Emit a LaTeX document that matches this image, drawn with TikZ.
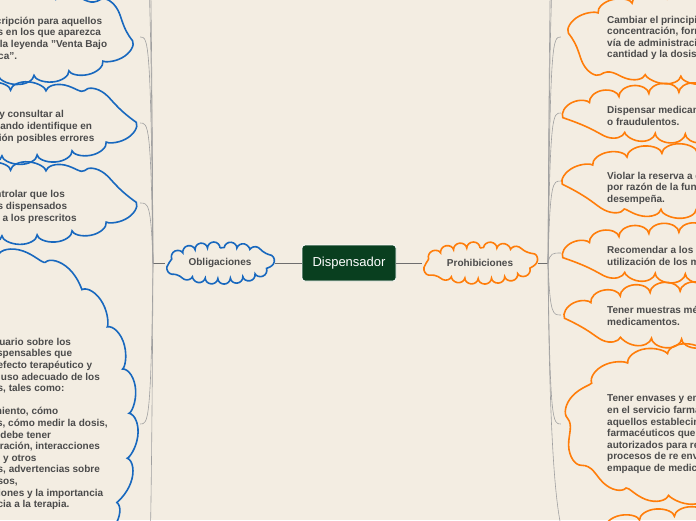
\documentclass[tikz,border=0pt]{standalone}
\usepackage{fontspec}
\setmainfont{Liberation Sans}
\usetikzlibrary{shapes.geometric,decorations.pathmorphing,calc}

\definecolor{fondo}{RGB}{243,237,226}
\definecolor{verdeosc}{RGB}{9,63,31}
\definecolor{azulnube}{RGB}{24,104,190}
\definecolor{naranjanube}{RGB}{255,125,10}
\definecolor{gristexto}{RGB}{75,75,75}
\definecolor{grisrama}{RGB}{160,160,160}
\definecolor{grislinea}{RGB}{110,110,110}

\tikzset{
  hueco/.style={ellipse, inner sep=0pt},
  nubeazul/.style={draw=azulnube, line width=1.6pt, decorate, decoration={bumps, segment length=#1, amplitude=-10pt}},
  nubeazul/.default=70pt,
  nubenaranja/.style={draw=naranjanube, line width=1.6pt, decorate, decoration={bumps, segment length=#1, amplitude=-10pt}},
  nubenaranja/.default=70pt,
  texto/.style={text=gristexto, font=\fontsize{10}{11.6}\selectfont\bfseries, align=left, inner sep=0pt, anchor=west},
  rama/.style={draw=grisrama, line width=0.6pt},
  tallo/.style={draw=grislinea, line width=0.9pt},
}

\begin{document}
\begin{tikzpicture}[x=1pt,y=-1pt]
	\useasboundingbox (0,0) rectangle (696,520);
	\fill[fondo] (0,0) rectangle (696,520);
	\clip (0,0) rectangle (696,520);
	
	% centro
	\node[fill=verdeosc, draw=white, line width=0.8pt, rounded corners=3pt, minimum width=94pt, minimum height=36pt, text=white, font=\fontsize{13}{15}\selectfont] (disp) at (349,263) {Dispensador};
	\node[hueco, minimum width=110pt, minimum height=40pt, text=gristexto, font=\fontsize{10}{12}\selectfont\bfseries] (obl) at (220,263) {Obligaciones};
	\draw[nubeazul=25pt, decoration={amplitude=-6pt}] ($(obl.center)+(0,-15)$) arc[start angle=270, end angle=-90, x radius=46, y radius=15];
	\node[hueco, minimum width=115pt, minimum height=40pt, text=gristexto, font=\fontsize{10}{12}\selectfont\bfseries] (proh) at (480,263) {Prohibiciones};
	\draw[nubenaranja=26.5pt, decoration={amplitude=-6pt}] ($(proh.center)+(0,-15)$) arc[start angle=270, end angle=-90, x radius=49, y radius=15];
	
	% obligaciones
	\node[hueco, minimum width=254pt, minimum height=84pt] (obl1) at (13,37) {};
	\draw[nubeazul] ($(obl1.center)+(-106,0)$) arc[start angle=180, end angle=-180, x radius=106, y radius=37];
	\node[texto] (obl1txt) at (-67,38) {Exigir la prescripción para aquellos\\medicamentos en los que aparezca\\en la etiqueta la leyenda "Venta Bajo\\Fórmula Médica".};
	\node[hueco, minimum width=254pt, minimum height=70pt] (obl2) at (13,123) {};
	\draw[nubeazul] ($(obl2.center)+(-106,0)$) arc[start angle=180, end angle=-180, x radius=106, y radius=31];
	\node[texto] (obl2txt) at (-67,127) {No dispensar y consultar al\\prescriptor cuando identifique en\\una prescripción posibles errores};
	\node[hueco, minimum width=254pt, minimum height=70pt] (obl3) at (13,203) {};
	\draw[nubeazul] ($(obl3.center)+(-106,0)$) arc[start angle=180, end angle=-180, x radius=106, y radius=31];
	\node[texto] (obl3txt) at (-67,207) {Verificar y controlar que los\\medicamentos dispensados\\correspondan a los prescritos};
	\node[hueco, minimum width=254pt, minimum height=342pt] (obl4) at (13,424) {};
	\draw[nubeazul=88pt, decoration={amplitude=-12pt}] ($(obl4.center)+(-112,0)$) arc[start angle=180, end angle=-180, x radius=112, y radius=159];
	\node[texto] (obl4txt) at (-67,424) {Informar al usuario sobre los\\aspectos indispensables que\\garanticen el efecto terapéutico y\\promuevan el uso adecuado de los\\medicamentos, tales como:\\condiciones\\de almacenamiento, cómo\\reconstituirlos, cómo medir la dosis,\\qué cuidados debe tener\\en la administración, interacciones\\con alimentos y otros\\medicamentos, advertencias sobre\\efectos adversos,\\contraindicaciones y la importancia\\de la adherencia a la terapia.};
	
	% prohibiciones
	\node[hueco, minimum width=254pt, minimum height=84pt] (pro1) at (688,37) {};
	\draw[nubenaranja] ($(pro1.center)+(106,0)$) arc[start angle=360, end angle=0, x radius=106, y radius=37];
	\node[texto] (pro1txt) at (607,38) {Cambiar el principio activo, la\\concentración, forma farmacéutica,\\vía de administración, la frecuencia, la\\cantidad y la dosis prescrita.};
	\node[hueco, minimum width=254pt, minimum height=52pt] (pro2) at (688,113) {};
	\draw[nubenaranja=60pt] ($(pro2.center)+(106,0)$) arc[start angle=360, end angle=0, x radius=106, y radius=20];
	\node[texto] (pro2txt) at (607,116) {Dispensar medicamentos alterados\\o fraudulentos.};
	\node[hueco, minimum width=254pt, minimum height=64pt] (pro3) at (688,181) {};
	\draw[nubenaranja] ($(pro3.center)+(106,0)$) arc[start angle=360, end angle=0, x radius=106, y radius=27];
	\node[texto] (pro3txt) at (607,188) {Violar la reserva a que está obligado\\por razón de la función que\\desempeña.};
	\node[hueco, minimum width=254pt, minimum height=52pt] (pro4) at (688,253) {};
	\draw[nubenaranja=60pt] ($(pro4.center)+(106,0)$) arc[start angle=360, end angle=0, x radius=106, y radius=20];
	\node[texto] (pro4txt) at (607,256) {Recomendar a los usuarios la\\utilización de los medicamentos.};
	\node[hueco, minimum width=254pt, minimum height=56pt] (pro5) at (688,315) {};
	\draw[nubenaranja=60pt] ($(pro5.center)+(106,0)$) arc[start angle=360, end angle=0, x radius=106, y radius=23];
	\node[texto] (pro5txt) at (607,316) {Tener muestras médicas de\\medicamentos.};
	\node[hueco, minimum width=254pt, minimum height=152pt] (pro6) at (688,424) {};
	\draw[nubenaranja=80pt, decoration={amplitude=-12pt}] ($(pro6.center)+(108,0)$) arc[start angle=360, end angle=0, x radius=108, y radius=67];
	\node[texto] (pro6txt) at (607,434) {Tener envases y empaques vacíos,\\en el servicio farmacéutico, a excepción de\\aquellos establecimientos\\farmacéuticos que estén\\autorizados para realizar\\procesos de re envase o re\\empaque de medicamentos.};
	\node[hueco, minimum width=254pt, minimum height=70pt] (pro7) at (700,545) {};
	\draw[nubenaranja] ($(pro7.center)+(106,0)$) arc[start angle=360, end angle=0, x radius=106, y radius=28];
	
	% tallos
	\coordinate (troncoizq) at (153,263);
	\coordinate (troncoder) at (548,263);
	\coordinate (fueraizq1) at (140,-60);
	\coordinate (fueraizq2) at (140,-150);
	\coordinate (fueraizq3) at (140,640);
	\coordinate (fuerader1) at (561,-60);
	\coordinate (fuerader2) at (561,-150);
	\draw[tallo] (disp.west) -- (obl.east);
	\draw[tallo] (disp.east) -- (proh.west);
	\draw[tallo] (obl.west) -- (troncoizq);
	\draw[tallo] (proh.east) -- (troncoder);
	
	% ramas izquierda
	\draw[rama] (troncoizq) .. controls ($(troncoizq |- fueraizq2)+(-2,0)$) and ($(fueraizq2)+(8,0)$) .. (fueraizq2);
	\draw[rama] (troncoizq) .. controls ($(troncoizq |- fueraizq1)+(-2,0)$) and ($(fueraizq1)+(8,0)$) .. (fueraizq1);
	\draw[rama] (troncoizq) .. controls ($(troncoizq |- obl1.east)+(-2,0)$) and ($(obl1.east)+(8,0)$) .. (obl1.east);
	\draw[rama] (troncoizq) .. controls ($(troncoizq |- obl2.east)+(-2,0)$) and ($(obl2.east)+(8,0)$) .. (obl2.east);
	\draw[rama] (troncoizq) .. controls ($(troncoizq |- obl3.east)+(-2,0)$) and ($(obl3.east)+(8,0)$) .. (obl3.east);
	\draw[rama] (troncoizq) .. controls ($(troncoizq |- obl4.east)+(-2,0)$) and ($(obl4.east)+(8,0)$) .. (obl4.east);
	\draw[rama] (troncoizq) .. controls ($(troncoizq |- fueraizq3)+(-2,0)$) and ($(fueraizq3)+(8,0)$) .. (fueraizq3);
	
	% ramas derecha
	\draw[rama] (troncoder) .. controls ($(troncoder |- fuerader2)+(2,0)$) and ($(fuerader2)+(-8,0)$) .. (fuerader2);
	\draw[rama] (troncoder) .. controls ($(troncoder |- fuerader1)+(2,0)$) and ($(fuerader1)+(-8,0)$) .. (fuerader1);
	\draw[rama] (troncoder) .. controls ($(troncoder |- pro1.west)+(2,0)$) and ($(pro1.west)+(-8,0)$) .. (pro1.west);
	\draw[rama] (troncoder) .. controls ($(troncoder |- pro2.west)+(2,0)$) and ($(pro2.west)+(-8,0)$) .. (pro2.west);
	\draw[rama] (troncoder) .. controls ($(troncoder |- pro3.west)+(2,0)$) and ($(pro3.west)+(-8,0)$) .. (pro3.west);
	\draw[rama] (troncoder) .. controls ($(troncoder |- pro4.west)+(2,0)$) and ($(pro4.west)+(-8,0)$) .. (pro4.west);
	\draw[rama] (troncoder) .. controls ($(troncoder |- pro5.west)+(2,0)$) and ($(pro5.west)+(-8,0)$) .. (pro5.west);
	\draw[rama] (troncoder) .. controls ($(troncoder |- pro6.west)+(2,0)$) and ($(pro6.west)+(-8,0)$) .. (pro6.west);
	\draw[rama] (troncoder) .. controls ($(troncoder |- pro7.west)+(2,0)$) and ($(pro7.west)+(-8,0)$) .. (pro7.west);
\end{tikzpicture}
\end{document}
